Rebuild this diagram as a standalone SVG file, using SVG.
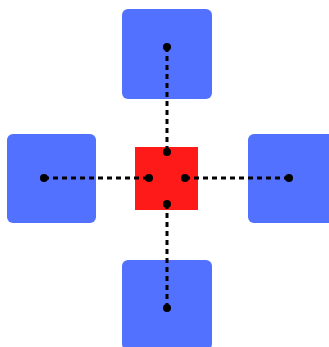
<svg xmlns="http://www.w3.org/2000/svg" width="329" height="347" viewBox="0 0 329 347">
<style>
.leaf{fill:#5271ff}
.hub{fill:#ff1a1a}
.link{stroke:#000;stroke-width:3;stroke-dasharray:5 4;fill:none}
.dot{fill:#000}
</style>
<rect width="329" height="347" fill="#fff"/>
<g id="top"><rect class="leaf" x="122" y="9" width="90" height="90" rx="6"/></g>
<g id="left"><rect class="leaf" x="7" y="134" width="89" height="89" rx="6"/></g>
<g id="right"><rect class="leaf" x="248" y="134" width="90" height="89" rx="6"/></g>
<g id="bottom"><rect class="leaf" x="122" y="260" width="90" height="90" rx="6"/></g>
<g id="center"><rect class="hub" x="135" y="147" width="63" height="63"/></g>
<g id="connectors">
<line class="link" x1="167" y1="47" x2="167" y2="152"/>
<line class="link" x1="44" y1="178" x2="149" y2="178"/>
<line class="link" x1="185" y1="178" x2="289" y2="178"/>
<line class="link" x1="167" y1="204" x2="167" y2="308"/>
<circle class="dot" cx="167" cy="47" r="4"/>
<circle class="dot" cx="167" cy="152" r="4"/>
<circle class="dot" cx="44" cy="178" r="4"/>
<circle class="dot" cx="149" cy="178" r="4"/>
<circle class="dot" cx="185" cy="178" r="4"/>
<circle class="dot" cx="289" cy="178" r="4"/>
<circle class="dot" cx="167" cy="204" r="4"/>
<circle class="dot" cx="167" cy="308" r="4"/>
</g>
</svg>
